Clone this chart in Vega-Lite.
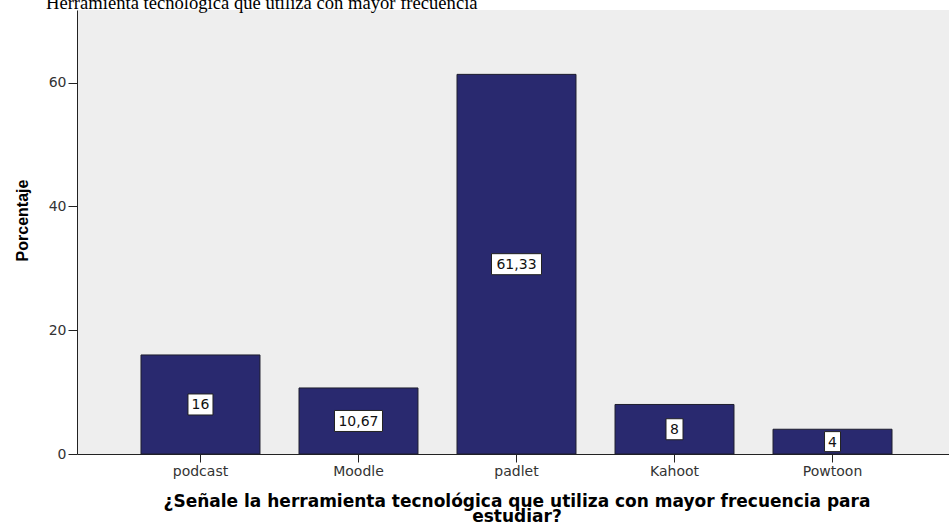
{
  "$schema": "https://vega.github.io/schema/vega-lite/v6.json",
  "width": 879,
  "height": 444,
  "autosize": {"type": "none"},
  "padding": {"left": 77, "top": 10, "right": 0, "bottom": 71},
  "background": "white",
  "title": {
    "text": "Herramienta tecnológica que utiliza con mayor frecuencia",
    "anchor": "start",
    "frame": "group",
    "baseline": "alphabetic",
    "offset": 3,
    "dx": -31,
    "dy": 21,
    "font": "Liberation Serif",
    "fontSize": 18.6,
    "fontWeight": "normal",
    "color": "#000000"
  },
  "config": {
    "view": {"fill": "#eeeeee", "stroke": null},
    "axis": {
      "domainColor": "#222222",
      "tickColor": "#222222",
      "labelColor": "#333333",
      "labelFont": "DejaVu Sans",
      "labelFontSize": 14,
      "grid": false
    }
  },
  "data": {
    "values": [
      {"herramienta": "podcast", "porcentaje": 16, "etiqueta": "16"},
      {"herramienta": "Moodle", "porcentaje": 10.67, "etiqueta": "10,67"},
      {"herramienta": "padlet", "porcentaje": 61.33, "etiqueta": "61,33"},
      {"herramienta": "Kahoot", "porcentaje": 8, "etiqueta": "8"},
      {"herramienta": "Powtoon", "porcentaje": 4, "etiqueta": "4"}
    ]
  },
  "encoding": {
    "x": {
      "field": "herramienta",
      "type": "nominal",
      "sort": null,
      "scale": {"paddingInner": 0.247, "paddingOuter": 0.405},
      "axis": {
        "labelAngle": 0,
        "tickSize": 8,
        "labelPadding": 2,
        "title": ["¿Señale la herramienta tecnológica que utiliza con mayor frecuencia para", "estudiar?"],
        "titleFont": "DejaVu Sans",
        "titleFontSize": 17,
        "titleFontWeight": "bold",
        "titleColor": "#000000",
        "titleLineHeight": 15,
        "titleBaseline": "alphabetic",
        "titleAlign": "center",
        "titleX": 439.5,
        "titleY": 52
      }
    }
  },
  "layer": [
    {
      "mark": {"type": "bar", "fill": "#29296f", "stroke": "#1e1e2e", "strokeWidth": 1},
      "encoding": {
        "y": {
          "field": "porcentaje",
          "type": "quantitative",
          "scale": {"domain": [0, 71.73], "nice": false},
          "axis": {
            "values": [0, 20, 40, 60],
            "tickSize": 9,
            "labelPadding": 2,
            "title": "Porcentaje",
            "titleFont": "Liberation Sans",
            "titleFontSize": 16,
            "titleFontWeight": "bold",
            "titleColor": "#000000",
            "titleAngle": -90,
            "titleBaseline": "alphabetic",
            "titleAlign": "center",
            "titleX": -50,
            "titleY": 210
          }
        }
      }
    },
    {
      "encoding": {
        "y": {
          "field": "porcentaje",
          "type": "quantitative",
          "scale": {"domain": [0, 143.46], "nice": false},
          "axis": null
        }
      },
      "layer": [
        {
          "mark": {"type": "point", "filled": true, "fill": "white", "stroke": "#222222", "strokeWidth": 1, "opacity": 1, "size": 4},
          "encoding": {
            "shape": {
              "field": "etiqueta",
              "type": "nominal",
              "scale": {
                "domain": ["16", "10,67", "61,33", "8", "4"],
                "range": [
                  "M-12.5,-10.5H12.5V10.5H-12.5Z",
                  "M-24,-10.5H24V10.5H-24Z",
                  "M-25,-10.5H25V10.5H-25Z",
                  "M-8.5,-10.5H8.5V10.5H-8.5Z",
                  "M-8,-10H8V10H-8Z"
                ]
              },
              "legend": null
            }
          }
        },
        {
          "mark": {"type": "text", "font": "DejaVu Sans", "fontSize": 14, "color": "#111111", "baseline": "middle", "align": "center", "dy": 1},
          "encoding": {
            "text": {"field": "etiqueta", "type": "nominal"}
          }
        }
      ]
    }
  ],
  "resolve": {"scale": {"y": "independent"}}
}
